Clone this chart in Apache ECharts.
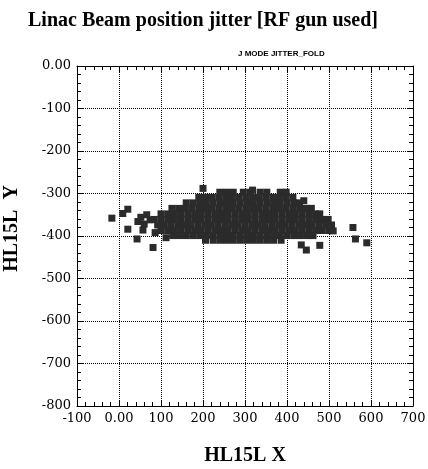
<!DOCTYPE html>
<html>
<head>
<meta charset="utf-8">
<script src="https://cdn.jsdelivr.net/npm/echarts@6/dist/echarts.min.js"></script>
<style>html,body{margin:0;padding:0;background:#fff;}#c{width:428px;height:469px;}</style>
</head>
<body>
<div id="c"></div>
<script>
// Axis ticks
const xTicks = [-100, 0, 100, 200, 300, 400, 500, 600, 700];
const yTicks = [0, -100, -200, -300, -400, -500, -600, -700, -800];

// Beam cloud (y of row, x of marks in row)
const rowY = [-297, -309, -322, -335, -348, -361, -374, -387, -399, -410];
const rowX = [
  [240, 256, 272, 296, 312, 336, 352, 384, 398],
  [190, 206, 222, 238, 254, 270, 286, 302, 318, 334, 350, 366, 382, 398, 414],
  [160, 176, 192, 208, 224, 240, 256, 272, 288, 304, 320, 336, 352, 368, 384, 400, 416, 430],
  [126, 142, 158, 174, 190, 206, 222, 238, 254, 270, 286, 302, 318, 334, 350, 366, 382, 398, 414, 430, 446, 458],
  [100, 116, 132, 148, 164, 180, 196, 212, 228, 244, 260, 276, 292, 308, 324, 340, 356, 372, 388, 404, 420, 436, 452, 468, 478],
  [84, 100, 116, 132, 148, 164, 180, 196, 212, 228, 244, 260, 276, 292, 308, 324, 340, 356, 372, 388, 404, 420, 436, 452, 468, 484, 498],
  [92, 108, 124, 140, 156, 172, 188, 204, 220, 236, 252, 268, 284, 300, 316, 332, 348, 364, 380, 396, 412, 428, 444, 460, 476, 492, 506],
  [100, 116, 132, 148, 164, 180, 196, 212, 228, 244, 260, 276, 292, 308, 324, 340, 356, 372, 388, 404, 420, 436, 452, 468, 484, 500],
  [128, 144, 160, 176, 192, 208, 224, 240, 256, 272, 288, 304, 320, 336, 352, 368, 384, 400, 416, 432, 448, 462],
  [206, 224, 240, 256, 272, 288, 304, 320, 336, 352, 368, 386]
];

// Scattered outliers around the cloud
const strayX = [-17, 9, 21, 45, 21, 43, 57, 81, 52, 66, 60, 74, 86, 112, 557, 563, 590, 434, 446, 478, 440, 200, 318, 510];
const strayY = [-358, -347, -337, -366, -384, -407, -386, -427, -356, -350, -372, -362, -392, -404, -380, -407, -416, -421, -433, -422, -317, -288, -292, -388];

const points = [];
rowY.forEach((y, i) => rowX[i].forEach(x => points.push([x, y])));
strayX.forEach((x, i) => points.push([x, strayY[i]]));

const serif = 'Liberation Serif';
const tickFont = 'DejaVu Serif';
const fmt = v => (v === 0 ? '0.00' : String(v));

const baseAxis = {
  type: 'value',
  axisLine: { show: true, onZero: false, lineStyle: { color: '#000', width: 1 } },
  axisTick: { show: true, inside: true, length: 6, lineStyle: { color: '#000', width: 1 } },
  minorTick: { show: true, splitNumber: 5, length: 4, lineStyle: { color: '#000', width: 1 } },
};

const chart = echarts.init(document.getElementById('c'), null, { renderer: 'canvas' });
chart.setOption({
  backgroundColor: '#fff',
  animation: false,
  title: [
    { text: 'Linac Beam position jitter [RF gun used]', left: 23, top: 6,
      textStyle: { fontFamily: serif, fontWeight: 'bold', fontSize: 20, color: '#000' } },
    { text: 'J MODE JITTER_FOLD', left: 233, top: 45,
      textStyle: { fontFamily: 'Liberation Sans', fontWeight: 'bold', fontSize: 8, color: '#000' } }
  ],
  grid: { left: 77, right: 15, top: 66, bottom: 63, containLabel: false, outerBoundsMode: 'none' },
  xAxis: [
    Object.assign({}, baseAxis, {
      position: 'bottom', min: xTicks[0], max: xTicks[xTicks.length - 1], interval: 100,
      splitLine: { show: true, lineStyle: { type: 'dotted', color: '#000', width: 1 } },
      axisLabel: { formatter: fmt, fontFamily: tickFont, fontSize: 13, color: '#000', margin: 6 },
      name: 'HL15L X', nameLocation: 'middle', nameGap: 40,
      nameTextStyle: { fontFamily: serif, fontWeight: 'bold', fontSize: 20, color: '#000' }
    }),
    Object.assign({}, baseAxis, {
      position: 'top', min: xTicks[0], max: xTicks[xTicks.length - 1], interval: 100,
      splitLine: { show: false }, axisLabel: { show: false }
    })
  ],
  yAxis: [
    Object.assign({}, baseAxis, {
      position: 'left', min: yTicks[yTicks.length - 1], max: yTicks[0], interval: 100,
      splitLine: { show: true, lineStyle: { type: 'dotted', color: '#000', width: 1 } },
      axisLabel: { formatter: fmt, fontFamily: tickFont, fontSize: 13, color: '#000', margin: 6 },
      name: '   HL15L  Y', nameLocation: 'middle', nameGap: 55, nameRotate: 90,
      nameTextStyle: { fontFamily: serif, fontWeight: 'bold', fontSize: 20, color: '#000' }
    }),
    Object.assign({}, baseAxis, {
      position: 'right', min: yTicks[yTicks.length - 1], max: yTicks[0], interval: 100,
      splitLine: { show: false }, axisLabel: { show: false }
    })
  ],
  series: [{
    type: 'scatter', xAxisIndex: 0, yAxisIndex: 0,
    symbol: 'rect', symbolSize: 7,
    itemStyle: { color: '#2b2b2b', opacity: 1 },
    data: points
  }]
});
</script>
</body>
</html>
